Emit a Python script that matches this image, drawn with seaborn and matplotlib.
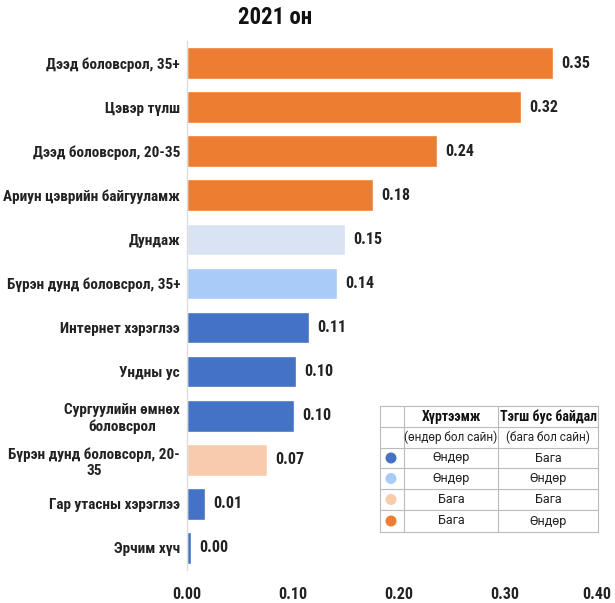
import matplotlib
matplotlib.use("Agg")
import matplotlib.pyplot as plt
import seaborn as sns
import pandas as pd
from matplotlib.patches import Circle
from matplotlib.lines import Line2D

categories = ["Дээд боловсрол, 35+", "Цэвэр түлш", "Дээд боловсрол, 20-35",
              "Ариун цэврийн байгууламж", "Дундаж", "Бүрэн дунд боловсрол, 35+",
              "Интернет хэрэглээ", "Ундны ус", "Сургуулийн өмнөх\nболовсрол",
              "Бүрэн дунд боловсорл, 20-\n35", "Гар утасны хэрэглээ", "Эрчим хүч"]
values = [0.345, 0.315, 0.236, 0.175, 0.149, 0.1415, 0.115, 0.103, 0.101, 0.075, 0.017, 0.004]
value_labels = ["0.35", "0.32", "0.24", "0.18", "0.15", "0.14", "0.11", "0.10", "0.10", "0.07", "0.01", "0.00"]
groups = ["o", "o", "o", "o", "avg", "lb", "b", "b", "b", "p", "b", "b"]
palette = {"o": "#ED7D31", "avg": "#DAE3F3", "lb": "#A9CBF7", "b": "#4472C4", "p": "#F8CBAD"}
xticks = [0.0, 0.1, 0.2, 0.3, 0.4]
title = "2021 он"

legend_header = ["", "Хүртээмж", "Тэгш бус байдал"]
legend_sub = ["", "(өндөр бол сайн)", "(бага бол сайн)"]
legend_colors = ["#4472C4", "#A9CBF7", "#F8CBAD", "#ED7D31"]
legend_col1 = ["Өндөр", "Өндөр", "Бага", "Бага"]
legend_col2 = ["Бага", "Өндөр", "Бага", "Өндөр"]

sns.set_theme(style="white")
plt.rcParams["font.family"] = ["Roboto Condensed", "Roboto", "DejaVu Sans"]
table_font = ["Roboto", "DejaVu Sans"]

df = pd.DataFrame({"cat": categories, "val": values, "grp": groups})

W, H = 615, 603
fig = plt.figure(figsize=(W / 100, H / 100), dpi=100)
ax = fig.add_axes([187 / W, 1 - 570 / H, (611 - 187) / W, (570 - 41) / H])
sns.barplot(data=df, y="cat", x="val", hue="grp", palette=palette, dodge=False,
            saturation=1, legend=False, width=0.72, ax=ax, orient="h")
ax.set_xlim(0, 0.4)
ax.set_ylim(len(categories) - 0.5, -0.5)
ax.set_xticks(xticks)
ax.set_xticklabels([f"{t:.2f}" for t in xticks], fontsize=11.5, fontweight="bold", color="#222222")
ax.get_xticklabels()[-1].set_horizontalalignment("right")
ax.set_yticks(range(len(categories)))
ax.set_yticklabels(categories, fontsize=11, fontweight="bold", color="#222222",
                   multialignment="center")
ax.set_xlabel("")
ax.set_ylabel("")
ax.tick_params(axis="y", length=0, pad=5)
ax.tick_params(axis="x", length=0, pad=12)
ax.set_yticks([i + 0.5 for i in range(-1, len(categories))], minor=True)
ax.tick_params(axis="y", which="minor", length=5, color="#DDDDDD", width=1)
for s in ["top", "right", "bottom"]:
    ax.spines[s].set_visible(False)
ax.spines["left"].set_color("#DDDDDD")
ax.spines["left"].set_linewidth(1)

for i, (v, lab) in enumerate(zip(values, value_labels)):
    ax.annotate(lab, xy=(v, i), xytext=(6, 0), textcoords="offset points",
                ha="left", va="center", fontsize=11.5, fontweight="bold", color="#222222")

fig.text(275 / W, 1 - 18 / H, title, ha="center", va="center",
         fontsize=16.5, fontweight="bold", color="#111111")

# Legend table
lax = fig.add_axes([0, 0, 1, 1], facecolor="none")
lax.set_xlim(0, W)
lax.set_ylim(H, 0)
lax.axis("off")
lax.add_patch(plt.Rectangle((380, 406), 218, 126, facecolor="white", edgecolor="none", zorder=0))
xs = [380, 404, 498, 598]
ys = [406, 427, 448, 468, 489, 510, 532]
lc = "#BBBBBB"
for y in ys:
    lax.add_line(Line2D([xs[0], xs[-1]], [y, y], color=lc, lw=0.8))
for x in xs:
    lax.add_line(Line2D([x, x], [ys[0], ys[-1]], color=lc, lw=0.8))
cx = [(xs[i] + xs[i + 1]) / 2 for i in range(3)]
for j in (1, 2):
    lax.text(cx[j], (ys[0] + ys[1]) / 2, legend_header[j], ha="center", va="center",
             fontsize=10, fontweight="bold", color="#111111", family=["Roboto Condensed", "DejaVu Sans"])
    lax.text(cx[j], (ys[1] + ys[2]) / 2, legend_sub[j], ha="center", va="center",
             fontsize=8.5, color="#222222", family=table_font)
for r in range(4):
    yc = (ys[r + 2] + ys[r + 3]) / 2
    lax.add_patch(Circle((cx[0] - 1, yc), 5.5, facecolor=legend_colors[r], edgecolor="none"))
    lax.text(cx[1], yc, legend_col1[r], ha="center", va="center", fontsize=9, color="#222222",
             family=table_font)
    lax.text(cx[2], yc, legend_col2[r], ha="center", va="center", fontsize=9, color="#222222",
             family=table_font)

fig.savefig("out.png", dpi=100)
